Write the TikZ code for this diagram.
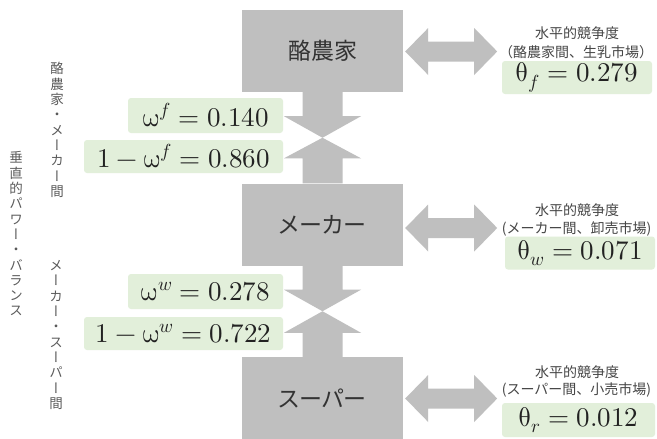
\documentclass[tikz,border=0pt]{standalone}
\usepackage{fontspec}
\usepackage{unicode-math}
\setmathfont{Latin Modern Math}
\newfontfamily\jp[RawFeature=+palt]{Noto Sans CJK JP}
\newfontfamily\jpn{Noto Sans CJK JP}
\newfontfamily\jpv[RawFeature=+vert]{Noto Sans CJK JP}
\usetikzlibrary{calc}
\definecolor{boxgray}{RGB}{191,191,191}
\definecolor{lgreen}{RGB}{226,239,218}
\definecolor{mtxt}{RGB}{34,34,34}
\definecolor{jtxt}{RGB}{51,51,51}
\definecolor{ltxt}{RGB}{70,70,70}
\definecolor{vtxt}{RGB}{90,90,90}
\tikzset{
  stage/.style={fill=boxgray, minimum width=161pt, minimum height=82pt, inner sep=0pt,
    font=\jp\fontsize{23}{27}\selectfont, text=jtxt},
  valbox/.style={fill=lgreen, rounded corners=3pt, inner sep=0pt,
    font=\fontsize{27}{32}\selectfont, text=mtxt},
  hlab/.style={font=\jpn\fontsize{14}{16}\selectfont, text=ltxt, inner sep=0pt},
  vlab/.style={font=\jpv\fontsize{13.5}{15.3}\selectfont, text=vtxt, align=center, inner sep=0pt},
  arr/.style={fill=boxgray},
  dblarrow/.pic={\fill[boxgray] (-46,0) -- ++(23,-23.5) -- ++(0,13.5) -- ++(46,0) -- ++(0,-13.5)
     -- ++(23,23.5) -- ++(-23,23.5) -- ++(0,-13.5) -- ++(-46,0) -- ++(0,13.5) -- cycle;}
}
\begin{document}
\begin{tikzpicture}[x=1pt,y=-1pt]
\useasboundingbox[fill=white] (0,0) rectangle (657,439);

% stage boxes
\node[stage] (f) at (322.5,51) {酪農家};
\node[stage] (w) at (322.5,224.5) {メーカー};
\node[stage] (r) at (322.5,398) {スーパー};

% meeting points of vertical arrows
\coordinate (m1) at ($(f.south)!0.5!(w.north)$);
\coordinate (m2) at ($(w.south)!0.5!(r.north)$);

% vertical arrows f <-> w
\fill[arr] ($(f.south)+(-20,0)$) -- ($(f.south)+(20,0)$) -- ($(f.south)+(20,24)$)
  -- ($(f.south)+(38.5,24)$) -- (m1) -- ($(f.south)+(-38.5,24)$) -- ($(f.south)+(-20,24)$) -- cycle;
\fill[arr] ($(w.north)+(-20,0)$) -- ($(w.north)+(20,0)$) -- ($(w.north)+(20,-25)$)
  -- ($(w.north)+(38.5,-25)$) -- (m1) -- ($(w.north)+(-38.5,-25)$) -- ($(w.north)+(-20,-25)$) -- cycle;
% vertical arrows w <-> r
\fill[arr] ($(w.south)+(-20,0)$) -- ($(w.south)+(20,0)$) -- ($(w.south)+(20,24)$)
  -- ($(w.south)+(38.5,24)$) -- (m2) -- ($(w.south)+(-38.5,24)$) -- ($(w.south)+(-20,24)$) -- cycle;
\fill[arr] ($(r.north)+(-20,0)$) -- ($(r.north)+(20,0)$) -- ($(r.north)+(20,-24)$)
  -- ($(r.north)+(38.5,-24)$) -- (m2) -- ($(r.north)+(-38.5,-24)$) -- ($(r.north)+(-20,-24)$) -- cycle;

% horizontal double arrows
\coordinate (ha1) at ($(f.east)+(48,0.5)$);
\coordinate (ha2) at ($(w.east)+(48,3.5)$);
\coordinate (ha3) at ($(r.east)+(48,0.5)$);
\pic at (ha1) {dblarrow};
\pic at (ha2) {dblarrow};
\pic at (ha3) {dblarrow};

% left value boxes
\node[valbox, minimum width=155pt, minimum height=35pt] (wf)  at (205.5,115.5) {$\symup{\omega}^f = 0.140$};
\node[valbox, minimum width=199pt, minimum height=33pt] (wf1) at (183.5,156.5) {$1-\symup{\omega}^f = 0.860$};
\node[valbox, minimum width=155pt, minimum height=35pt] (ww)  at (205.5,291.5) {$\symup{\omega}^w = 0.278$};
\node[valbox, minimum width=199pt, minimum height=33pt] (ww1) at (183.5,333.5) {$1-\symup{\omega}^w = 0.722$};

% right labels
\node[hlab] (h1) at (577,33) {水平的競争度};
\node[hlab] (p1) at (576,52) {（酪農家間、生乳市場）};
\node[valbox, minimum width=150pt, minimum height=33pt] (tf) at (577,77.5) {$\symup{\theta}_f = 0.279$};

\node[hlab] (h2) at (577,210) {水平的競争度};
\node[hlab] (p2) at (576.5,229) {(メーカー間、卸売市場)};
\node[valbox, minimum width=150pt, minimum height=33pt] (tw) at (580,253) {$\symup{\theta}_w = 0.071$};

\node[hlab] (h3) at (577,372) {水平的競争度};
\node[hlab] (p3) at (576.5,390) {(スーパー間、小売市場)};
\node[valbox, minimum width=153pt, minimum height=34pt] (tr) at (578.5,420) {$\symup{\theta}_r = 0.012$};

% vertical labels
\node[vlab] (v1) at (57,130) {酪\\農\\家\\・\\メ\\ー\\カ\\ー\\間};
\node[vlab] (v0) at (16,234) {垂\\直\\的\\パ\\ワ\\ー\\・\\バ\\ラ\\ン\\ス};
\node[vlab] (v2) at (56,335) {メ\\ー\\カ\\ー\\・\\ス\\ー\\パ\\ー\\間};
\end{tikzpicture}
\end{document}
